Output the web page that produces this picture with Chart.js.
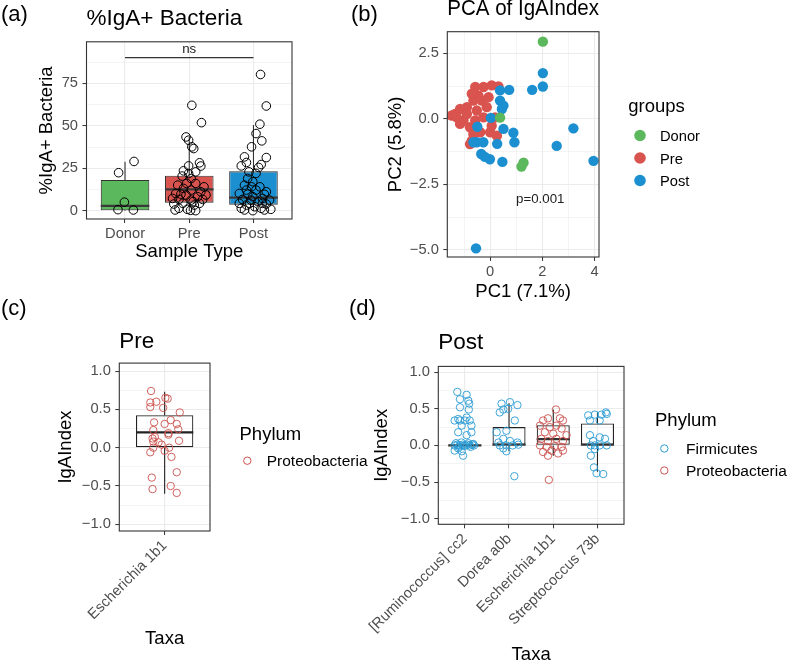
<!DOCTYPE html>
<html><head><meta charset="utf-8">
<script src="https://cdn.jsdelivr.net/npm/chart.js@4.4.1/dist/chart.umd.min.js"></script>
<style>
html,body{margin:0;padding:0;background:#fff;}
#wrap{position:relative;width:800px;height:666px;overflow:hidden;background:#fff;}
canvas{position:absolute;left:0;top:0;}
</style></head><body>
<div id="wrap">
<canvas id="cA" width="800" height="666"></canvas>
<canvas id="cB" width="800" height="666"></canvas>
<canvas id="cC" width="800" height="666"></canvas>
<canvas id="cD" width="800" height="666"></canvas>
</div>
<script>
// ---------- DATA ----------
// (a) %IgA+ bacteria
const sampleTypes = ['Donor','Pre','Post'];
const groupColors = ['#5cb85c','#d9534f','#1b8fd0'];
const igaMajor = [0,25,50,75];
const igaMinor = [12.5,37.5,62.5,87.5];
const igaLabels = ['0','25','50','75'];
const donorPct = [22.5,29.1,5.2,0.8,0.6];
const donorJit = [-0.10,0.14,-0.01,-0.11,0.13];
const prePct = [62.1,51.9,43.5,41.6,37.7,36.7,28.3,26.4,26.5,23.6,23.0,20.5,19.1,16.2,15.2,16.2,13.3,12.3,11.3,10.3,9.4,8.4,6.8,6.4,6.8,4.1,4.5,3.5,1.6,1.0,0.2,0.6,9.9,14.2,7.4,4.5,22.0,5.5,9.4,0.4];
const preJit = [0.04,0.19,-0.05,-0.01,0.04,0.07,0.16,0.18,-0.01,-0.09,0.10,-0.11,0.03,-0.04,-0.18,0.10,-0.09,0.03,0.18,-0.21,-0.05,0.13,-0.16,0.03,0.21,-0.24,-0.10,0.08,-0.16,-0.03,0.10,-0.22,-0.13,0.23,-0.26,0.16,-0.01,0.06,0.26,0.02];
const postPct = [80.2,61.7,51.0,45.5,41.2,37.7,31.8,31.4,28.5,27.3,25.6,26.5,23.0,22.1,19.1,17.2,15.2,14.2,12.3,11.3,10.3,9.9,8.4,7.4,6.8,6.4,6.4,5.5,4.5,4.1,3.5,2.5,1.6,0.6,0.2,0.6,1.0,1.6,4.5,4.5,14.2,9.8,12.3];
const postJit = [0.11,0.20,0.10,0.04,0.13,-0.03,-0.14,0.20,-0.11,0.12,0.08,-0.19,-0.07,0.04,-0.09,-0.01,-0.14,0.10,0.04,0.20,-0.22,-0.09,-0.01,0.14,-0.17,-0.04,0.25,0.07,-0.22,0.20,-0.11,0.02,0.12,-0.14,-0.01,0.17,0.27,-0.19,-0.06,0.14,-0.03,0.17,-0.11];
const boxQ1 = [0.4,4.9,3.7];
const boxMed = [3.0,12.7,7.8];
const boxQ3 = [18.2,20.7,23.3];
const whiskLo = [0,0,0.1];
const whiskHi = [29.0,43.5,50.5];
const sigY = 90.1;

// (b) PCA
const pc1Major = [0,2,4], pc1Minor = [-1,1,3], pc1Labels = ['0','2','4'];
const pc2Major = [-5,-2.5,0,2.5], pc2Minor = [-3.75,-1.25,1.25], pc2Labels = ['\u22125.0','\u22122.5','0.0','2.5'];
const donorPC1 = [2.02,0.38,1.28,1.20];
const donorPC2 = [2.95,0.05,-1.67,-1.82];
const prePC1 = [-1.47,-1.34,-1.15,-0.89,-0.57,-0.25,0.06,0.32,-0.64,-0.32,-0.06,-0.45,-1.02,-0.77,-1.15,-0.64,-0.38,-0.70,-0.77,0.00,0.26,0.06,0.19,-0.13,-0.51,-1.28,-0.89,-0.57,-0.25,-0.70];
const prePC2 = [0.13,0.19,0.38,0.45,1.22,1.22,1.28,1.24,0.70,0.70,0.83,0.89,-0.06,-0.32,-0.19,-0.58,-0.51,-0.83,-0.96,-0.51,-0.64,-0.26,0.06,0.45,0.32,0.06,0.19,-0.06,0.06,0.96];
const postPC1 = [2.02,2.02,1.61,0.73,0.38,0.38,0.51,0.45,0.03,-0.49,0.51,0.89,0.93,0.27,-0.51,-0.26,-0.34,-0.01,0.47,2.55,3.19,3.96,-0.54,-0.64,-0.20];
const postPC2 = [1.75,1.24,1.11,1.11,1.09,0.70,0.51,0.38,0.04,-0.30,-0.38,-0.53,-0.89,-0.95,-0.89,-0.89,-1.34,-1.54,-1.64,-1.03,-0.36,-1.60,-4.94,-0.89,-1.45];

// (c),(d) IgA index
const idxMajor = [-1,-0.5,0,0.5,1], idxMinor = [-0.75,-0.25,0.25,0.75];
const idxLabels = ['\u22121.0','\u22120.5','0.0','0.5','1.0'];
const preTaxa = ['Escherichia 1b1'];
const preEscIdx = [0.74,0.59,0.53,0.60,0.65,0.64,0.52,0.46,0.33,0.31,0.36,0.31,0.24,0.23,0.19,0.17,0.14,0.12,0.08,0.07,0.09,0.04,-0.06,0.00,-0.04,0.00,-0.12,-0.32,-0.39,-0.54,-0.50,-0.59];
const preEscJit = [-0.18,-0.19,-0.19,-0.11,0.01,0.04,-0.02,0.20,-0.14,0.00,0.08,0.16,0.18,-0.15,0.05,0.05,-0.13,-0.16,-0.15,-0.08,0.19,-0.04,-0.19,-0.15,0.00,0.06,0.09,0.16,-0.17,-0.16,0.08,0.16];
const preBox = {q1:[0.0], med:[0.2], q3:[0.425], lo:[-0.6], hi:[0.73]};

const postTaxa = ['[Ruminococcus] cc2','Dorea a0b','Escherichia 1b1','Streptococcus 73b'];
const taxaPhylum = ['Firmicutes','Firmicutes','Proteobacteria','Firmicutes'];
const phyla = ['Firmicutes','Proteobacteria'];
const phylumColors = ['#2a9bd3','#c9514d'];
const rumIdx = [0.73,0.69,0.63,0.61,0.57,0.49,0.52,0.34,0.34,0.34,0.34,0.36,0.38,0.27,0.27,0.18,0.18,0.14,0.00,0.01,0.00,0.01,0.00,0.01,0.00,0.01,0.00,0.03,0.04,0.03,0.02,-0.02,-0.01,-0.02,-0.07,-0.08,-0.14,-0.04];
const rumJit = [-0.17,0.04,-0.11,0.08,0.10,0.09,-0.11,-0.23,-0.11,0.00,0.11,-0.15,0.04,-0.07,0.15,-0.15,0.15,0.04,-0.23,-0.17,-0.11,-0.05,0.00,0.05,0.11,0.17,0.21,-0.20,-0.08,0.08,0.19,-0.14,-0.02,0.13,-0.23,-0.07,-0.04,-0.15];
const dorIdx = [0.57,0.59,0.55,0.45,0.49,0.50,0.34,0.18,0.20,0.09,0.04,0.06,0.04,0.00,0.00,0.00,0.01,-0.04,-0.08,-0.42];
const dorJit = [-0.17,0.02,0.19,-0.21,-0.13,-0.02,0.13,-0.28,-0.06,-0.13,-0.24,0.02,0.19,-0.21,-0.06,0.08,0.21,-0.13,-0.06,0.12];
const escIdx = [0.49,0.34,0.37,0.37,0.34,0.27,0.25,0.27,0.23,0.18,0.16,0.14,0.09,0.06,0.09,0.06,0.00,-0.02,-0.01,-0.02,-0.09,-0.07,-0.11,-0.14,-0.07,-0.47];
const escJit = [0.06,-0.23,-0.12,0.15,0.22,-0.30,-0.08,0.07,0.19,-0.19,0.00,0.30,-0.27,-0.12,0.07,0.22,-0.30,-0.15,0.03,0.19,-0.23,-0.04,0.11,-0.12,0.22,-0.10];
const strIdx = [0.41,0.42,0.42,0.43,0.34,0.34,0.45,0.14,0.11,0.09,0.06,0.00,0.00,0.00,0.00,-0.05,-0.14,-0.30,-0.38,-0.39];
const strJit = [-0.21,-0.06,0.09,0.21,-0.17,0.05,0.19,-0.17,0.05,0.17,-0.10,-0.06,0.05,0.21,-0.15,-0.06,-0.15,-0.08,-0.02,0.13];
const postBox = {q1:[0.0,0.0,0.0,0.0], med:[0.0,0.01,0.085,0.01], q3:[0.004,0.25,0.275,0.30],
                 lo:[null,-0.08,-0.14,-0.36], hi:[null,0.575,0.49,0.45]};

// ---------- HELPERS ----------
const FONT = "'Liberation Sans', Arial, Helvetica, sans-serif";
Chart.defaults.font.family = FONT;
Chart.defaults.color = '#000';

function linScale(o) {
  const major = o.major, minor = o.minor || [], labels = o.labels;
  const all = major.concat(minor).sort((a,b)=>a-b);
  const isMajor = c => c && c.tick && major.indexOf(c.tick.value) >= 0;
  return {
    type: 'linear', min: o.min, max: o.max, offset: false,
    afterBuildTicks: s => { s.ticks = all.map(v => ({value: v})); },
    afterFit: s => { if (o.axis === 'y') s.width = o.size; else s.height = o.size; },
    ticks: { autoSkip: false, color: '#4d4d4d', font: {size: o.tickSize || 14.7}, padding: o.pad,
      maxRotation: o.rot || 0, minRotation: o.rot || 0,
      callback: v => { const i = major.indexOf(v); return i < 0 ? '' : labels[i]; } },
    grid: { offset: false, color: '#ebebeb', lineWidth: c => isMajor(c) ? 1.1 : 0.55,
      tickColor: c => isMajor(c) ? '#333333' : 'rgba(0,0,0,0)', tickLength: 4, tickWidth: 1, drawTicks: true },
    border: { display: false },
    title: { display: true, text: o.title, color: '#000', font: {size: 18.5}, padding: 0 }
  };
}
function segs(centers, from, to) {
  const out = [];
  centers.forEach((c, i) => {
    if (from[i] === null || to[i] === null) return;
    out.push({x: c, y: from[i]}, {x: c, y: to[i]}, {x: c, y: null});
  });
  return out;
}
function medSegs(centers, med, hw) {
  const out = [];
  centers.forEach((c, i) => { out.push({x: c - hw, y: med[i]}, {x: c + hw, y: med[i]}, {x: c + hw, y: null}); });
  return out;
}
function jitter(center, vals, jit) { return vals.map((v, i) => ({x: center + jit[i], y: v})); }

const extras = {
  id: 'extras',
  afterDraw(chart, args, o) {
    const ctx = chart.ctx, a = chart.chartArea;
    ctx.save();
    ctx.strokeStyle = '#333333'; ctx.lineWidth = 1.1;
    ctx.strokeRect(a.left, a.top, a.right - a.left, a.bottom - a.top);
    const xs = chart.scales.x, ys = chart.scales.y;
    ctx.textBaseline = 'alphabetic';
    (o.dataTexts || []).forEach(t => {
      ctx.font = t.size + 'px ' + FONT; ctx.fillStyle = t.color || '#000'; ctx.textAlign = t.align || 'center';
      ctx.fillText(t.text, xs.getPixelForValue(t.x), ys.getPixelForValue(t.y));
    });
    (o.texts || []).forEach(t => {
      ctx.font = t.size + 'px ' + FONT; ctx.fillStyle = t.color || '#000'; ctx.textAlign = t.align || 'left';
      ctx.fillText(t.text, t.x, t.y);
    });
    if (o.legend) {
      const L = o.legend;
      ctx.font = L.titleSize + 'px ' + FONT; ctx.fillStyle = '#000'; ctx.textAlign = 'left';
      ctx.fillText(L.title, L.x, L.titleY);
      L.labels.forEach((lab, i) => {
        const cy = L.y0 + i * L.dy;
        ctx.beginPath(); ctx.arc(L.cx, cy, L.r, 0, Math.PI * 2);
        if (L.filled) { ctx.fillStyle = L.colors[i]; ctx.fill(); }
        else { ctx.strokeStyle = L.colors[i]; ctx.lineWidth = 1; ctx.stroke(); }
        ctx.font = L.size + 'px ' + FONT; ctx.fillStyle = '#000';
        ctx.fillText(lab, L.tx, cy + L.textDy);
      });
    }
    ctx.restore();
  }
};
function titleOpt(text, bottom) {
  return { display: true, text: text, align: 'start', fullSize: false, color: '#000',
           font: {size: 22.5, weight: 'normal', lineHeight: 0.8}, padding: {top: 0, bottom: bottom} };
}
const common = { responsive: false, maintainAspectRatio: false, animation: false, events: [] };

// ---------- (a) ----------
const catA = [1,2,3];
new Chart(document.getElementById('cA'), {
  type: 'bar',
  data: { datasets: [
    { type: 'scatter', data: jitter(1, donorPct, donorJit).concat(jitter(2, prePct, preJit), jitter(3, postPct, postJit)),
      pointRadius: 4.3, pointBorderWidth: 1, pointBorderColor: '#000', pointBackgroundColor: 'rgba(0,0,0,0)',
      borderColor: '#000', backgroundColor: 'rgba(0,0,0,0)', order: 0 },
    { type: 'line', data: segs(catA, boxQ3, whiskHi).concat(segs(catA, boxQ1, whiskLo)), borderColor: '#333', borderWidth: 1.1, pointRadius: 0, spanGaps: false, order: 1 },
    { type: 'line', data: medSegs(catA, boxMed, 0.378), borderColor: '#3a3a3a', borderWidth: 2.2, pointRadius: 0, spanGaps: false, order: 1 },
    { type: 'line', data: [{x: 1, y: sigY}, {x: 3, y: sigY}], borderColor: '#333', borderWidth: 1.1, pointRadius: 0, order: 1 },
    { type: 'bar', data: catA.map((c, i) => ({x: c, y: [boxQ1[i], boxQ3[i]]})), backgroundColor: groupColors,
      borderColor: '#333', borderWidth: 1.1, borderSkipped: false, barPercentage: 0.757, categoryPercentage: 1, order: 2 }
  ]},
  options: Object.assign({}, common, {
    layout: { padding: {left: 35.9, right: 508, top: 10.1, bottom: 403.1} },
    scales: {
      x: linScale({axis: 'x', min: 0.4, max: 3.6, major: catA, labels: sampleTypes, size: 43.9, pad: 2, title: 'Sample Type'}),
      y: linScale({axis: 'y', min: -4.7, max: 99.4, major: igaMajor, minor: igaMinor, labels: igaLabels, size: 50.6, pad: 4.5, title: '%IgA+ Bacteria'})
    },
    plugins: { legend: {display: false}, tooltip: {enabled: false}, title: titleOpt('%IgA+ Bacteria', 13.7),
      extras: { texts: [{text: '(a)', x: 1, y: 21, size: 22}],
                dataTexts: [{text: 'ns', x: 2, y: 92.7, size: 13.3, color: '#222'}] } }
  }),
  plugins: [extras]
});

// ---------- (b) ----------
const zip = (a, b) => a.map((v, i) => ({x: v, y: b[i]}));
new Chart(document.getElementById('cB'), {
  type: 'scatter',
  data: { datasets: [
    { label: 'Donor', data: zip(donorPC1, donorPC2), pointRadius: 5.2, pointBorderWidth: 0, pointBackgroundColor: groupColors[0], backgroundColor: groupColors[0], borderColor: groupColors[0] },
    { label: 'Post', data: zip(postPC1, postPC2), pointRadius: 5.2, pointBorderWidth: 0, pointBackgroundColor: groupColors[2], backgroundColor: groupColors[2], borderColor: groupColors[2] },
    { label: 'Pre', data: zip(prePC1, prePC2), pointRadius: 5.2, pointBorderWidth: 0, pointBackgroundColor: groupColors[1], backgroundColor: groupColors[1], borderColor: groupColors[1] }
  ]},
  options: Object.assign({}, common, {
    layout: { padding: {left: 384.5, right: 201, top: 0.1, bottom: 363.3} },
    scales: {
      x: linScale({axis: 'x', min: -1.64, max: 4.17, major: pc1Major, minor: pc1Minor, labels: pc1Labels, size: 45.7, pad: 2, title: 'PC1 (7.1%)'}),
      y: linScale({axis: 'y', min: -5.27, max: 3.33, major: pc2Major, minor: pc2Minor, labels: pc2Labels, size: 62.8, pad: 4.5, title: 'PC2 (5.8%)'})
    },
    plugins: { legend: {display: false}, tooltip: {enabled: false}, title: titleOpt('PCA of IgAIndex', 13.6),
      extras: { texts: [{text: '(b)', x: 351, y: 21, size: 22}],
                dataTexts: [{text: 'p=0.001', x: 1.92, y: -3.2, size: 13.3, color: '#222'}],
                legend: { title: 'groups', titleSize: 18.5, x: 628.3, titleY: 111.7, labels: sampleTypes, colors: groupColors,
                          filled: true, cx: 640, y0: 135.5, dy: 22.5, r: 5.8, tx: 660, size: 14.7, textDy: 5.5 } } }
  }),
  plugins: [extras]
});

// ---------- (c) ----------
new Chart(document.getElementById('cC'), {
  type: 'bar',
  data: { datasets: [
    { type: 'scatter', data: jitter(1, preEscIdx, preEscJit), pointRadius: 3.7, pointBorderWidth: 0.9,
      pointBorderColor: phylumColors[1], pointBackgroundColor: 'rgba(0,0,0,0)', borderColor: phylumColors[1], backgroundColor: 'rgba(0,0,0,0)', order: 0 },
    { type: 'line', data: segs([1], preBox.q3, preBox.hi).concat(segs([1], preBox.q1, preBox.lo)), borderColor: '#222', borderWidth: 1.1, pointRadius: 0, spanGaps: false, order: 1 },
    { type: 'line', data: medSegs([1], preBox.med, 0.379), borderColor: '#222', borderWidth: 2.2, pointRadius: 0, spanGaps: false, order: 1 },
    { type: 'bar', data: [{x: 1, y: [preBox.q1[0], preBox.q3[0]]}], backgroundColor: 'rgba(0,0,0,0)',
      borderColor: '#222', borderWidth: 1.1, borderSkipped: false, barPercentage: 0.632, categoryPercentage: 1, order: 2 }
  ]},
  options: Object.assign({}, common, {
    layout: { padding: {left: 55.2, right: 590, top: 332.7, bottom: 16.3} },
    scales: {
      x: linScale({axis: 'x', min: 0.4, max: 1.6, major: [1], labels: preTaxa, size: 118.7, pad: 2, rot: 45, title: 'Taxa'}),
      y: linScale({axis: 'y', min: -1.087, max: 1.104, major: idxMajor, minor: idxMinor, labels: idxLabels, size: 64.1, pad: 4.5, title: 'IgAIndex'})
    },
    plugins: { legend: {display: false}, tooltip: {enabled: false}, title: titleOpt('Pre', 12.4),
      extras: { texts: [{text: '(c)', x: 1, y: 315, size: 22}],
                legend: { title: 'Phylum', titleSize: 18.5, x: 239.5, titleY: 440, labels: ['Proteobacteria'], colors: [phylumColors[1]],
                          filled: false, cx: 247.3, y0: 460.7, dy: 22, r: 3.7, tx: 266.7, size: 15.5, textDy: 5.5 } } }
  }),
  plugins: [extras]
});

// ---------- (d) ----------
const catD = [1,2,3,4];
const firmPts = jitter(1, rumIdx, rumJit).concat(jitter(2, dorIdx, dorJit), jitter(4, strIdx, strJit));
const protPts = jitter(3, escIdx, escJit);
new Chart(document.getElementById('cD'), {
  type: 'bar',
  data: { datasets: [
    { type: 'scatter', label: phyla[0], data: firmPts, pointRadius: 3.7, pointBorderWidth: 0.9,
      pointBorderColor: phylumColors[0], pointBackgroundColor: 'rgba(0,0,0,0)', borderColor: phylumColors[0], backgroundColor: 'rgba(0,0,0,0)', order: 0 },
    { type: 'scatter', label: phyla[1], data: protPts, pointRadius: 3.7, pointBorderWidth: 0.9,
      pointBorderColor: phylumColors[1], pointBackgroundColor: 'rgba(0,0,0,0)', borderColor: phylumColors[1], backgroundColor: 'rgba(0,0,0,0)', order: 0 },
    { type: 'line', data: segs(catD, postBox.q3, postBox.hi).concat(segs(catD, postBox.q1, postBox.lo)), borderColor: '#222', borderWidth: 1.1, pointRadius: 0, spanGaps: false, order: 1 },
    { type: 'line', data: medSegs(catD, postBox.med, 0.375), borderColor: '#333', borderWidth: 2.2, pointRadius: 0, spanGaps: false, order: 1 },
    { type: 'bar', data: catD.map((c, i) => ({x: c, y: [postBox.q1[i], postBox.q3[i]]})), backgroundColor: 'rgba(0,0,0,0)',
      borderColor: '#222', borderWidth: 1.1, borderSkipped: false, barPercentage: 0.747, categoryPercentage: 1, order: 2 }
  ]},
  options: Object.assign({}, common, {
    layout: { padding: {left: 370.9, right: 176, top: 333.4, bottom: 0} },
    scales: {
      x: linScale({axis: 'x', min: 0.4, max: 4.6, major: catD, labels: postTaxa, size: 141.7, pad: 2, rot: 45, title: 'Taxa'}),
      y: linScale({axis: 'y', min: -1.076, max: 1.078, major: idxMajor, minor: idxMinor, labels: idxLabels, size: 67.4, pad: 4.5, title: 'IgAIndex'})
    },
    plugins: { legend: {display: false}, tooltip: {enabled: false}, title: titleOpt('Post', 15),
      extras: { texts: [{text: '(d)', x: 349, y: 315, size: 22}],
                legend: { title: 'Phylum', titleSize: 18.5, x: 655, titleY: 426, labels: phyla, colors: phylumColors,
                          filled: false, cx: 664.3, y0: 448.5, dy: 22, r: 3.7, tx: 686, size: 15.5, textDy: 5.5 } } }
  }),
  plugins: [extras]
});
</script>
</body></html>
